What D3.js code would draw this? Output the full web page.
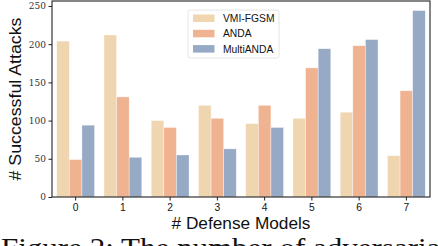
<!DOCTYPE html>
<html>
<head>
<meta charset="utf-8">
<script src="https://cdn.jsdelivr.net/npm/d3@7"></script>
<style>
  body { margin: 0; background: #fff; }
  svg { display: block; }
</style>
</head>
<body>
<svg id="chart" width="438" height="246"></svg>
<script>
// data
const categories = ["0", "1", "2", "3", "4", "5", "6", "7"];
const seriesNames = ["VMI-FGSM", "ANDA", "MultiANDA"];
const vmiFgsm = [204, 212, 100, 120, 96, 103, 111, 54];
const anda = [49, 131, 91, 103, 120, 169, 198, 139];
const multiAnda = [94, 52, 55, 63, 91, 194, 206, 244];
const yTicks = [0, 50, 100, 150, 200, 250];
const colors = ["#efd5b0", "#efb391", "#96aac5"];

const series = [vmiFgsm, anda, multiAnda];

const svg = d3.select("#chart");
const margin = { top: 1, right: 8, bottom: 49, left: 52 };
const width = +svg.attr("width") - margin.left - margin.right;
const height = +svg.attr("height") - margin.top - margin.bottom;

const g = svg
  .append("g")
  .attr("transform", `translate(${margin.left}, ${margin.top})`);

const x = d3
  .scaleBand()
  .domain(categories)
  .range([0, width])
  .paddingInner(0.2)
  .paddingOuter(0.1);

const xSub = d3
  .scaleBand()
  .domain(seriesNames)
  .range([0, x.bandwidth()]);

const y = d3
  .scaleLinear()
  .domain([0, 256.5])
  .range([height, 0]);

// bars
series.forEach((vals, si) => {
  g.append("g")
    .selectAll("rect")
    .data(vals)
    .enter()
    .append("rect")
    .attr("x", (d, i) => x(categories[i]) + xSub(seriesNames[si]))
    .attr("y", d => y(d))
    .attr("width", xSub.bandwidth())
    .attr("height", d => height - y(d))
    .attr("fill", colors[si])
    .attr("stroke", "#fff")
    .attr("stroke-opacity", 0.6)
    .attr("stroke-width", 0.6);
});

// frame
g.append("rect")
  .attr("x", 0)
  .attr("y", 0)
  .attr("width", width)
  .attr("height", height)
  .attr("fill", "none")
  .attr("stroke", "#222")
  .attr("stroke-width", 1.1);

const xAxis = d3.axisBottom(x).tickSize(3.5).tickPadding(3);
const yAxis = d3.axisLeft(y).tickValues(yTicks).tickSize(3.5).tickPadding(2.5);

g.append("g")
  .attr("transform", `translate(0, ${height})`)
  .call(xAxis)
  .call(s => {
    s.select(".domain").remove();
    s.selectAll(".tick line").attr("stroke", "#222");
    s.selectAll(".tick text")
      .attr("fill", "#111")
      .style("font-family", "'Liberation Sans', Arial, sans-serif")
      .style("font-size", "10.3px");
  });

g.append("g")
  .call(yAxis)
  .call(s => {
    s.select(".domain").remove();
    s.selectAll(".tick line").attr("stroke", "#222");
    s.selectAll(".tick text")
      .attr("fill", "#333")
      .style("font-family", "'DejaVu Serif', 'Liberation Serif', serif")
      .style("font-size", "9px");
  });

// axis titles
svg.append("text")
  .attr("x", margin.left + width / 2)
  .attr("y", 228.5)
  .attr("text-anchor", "middle")
  .attr("textLength", 139)
  .attr("lengthAdjust", "spacingAndGlyphs")
  .style("font-family", "'Liberation Sans', Arial, sans-serif")
  .style("font-size", "16px")
  .attr("fill", "#111")
  .text("# Defense Models");

svg.append("text")
  .attr("transform", `translate(21, ${margin.top + height / 2}) rotate(-90)`)
  .attr("text-anchor", "middle")
  .attr("textLength", 163)
  .attr("lengthAdjust", "spacingAndGlyphs")
  .style("font-family", "'Liberation Sans', Arial, sans-serif")
  .style("font-size", "16px")
  .attr("fill", "#111")
  .text("# Successful Attacks");

// legend
const legend = svg.append("g").attr("transform", "translate(188, 10)");
legend.append("rect")
  .attr("width", 91)
  .attr("height", 48)
  .attr("rx", 2.5)
  .attr("fill", "#fff")
  .attr("fill-opacity", 0.85)
  .attr("stroke", "#ddd")
  .attr("stroke-width", 0.8);

seriesNames.forEach((name, i) => {
  const row = legend.append("g").attr("transform", `translate(5, ${8 + i * 15.3})`);
  row.append("rect")
    .attr("x", 0)
    .attr("y", -3.5)
    .attr("width", 21.5)
    .attr("height", 7.5)
    .attr("fill", colors[i]);
  row.append("text")
    .attr("x", 30)
    .attr("y", 4)
    .style("font-family", "'Liberation Sans', Arial, sans-serif")
    .style("font-size", "10.3px")
    .attr("fill", "#111")
    .text(name);
});

// caption (clipped at the bottom of the image, as in the source)
svg.append("text")
  .attr("x", 1)
  .attr("y", 257)
  .attr("textLength", 448)
  .attr("lengthAdjust", "spacingAndGlyphs")
  .style("font-family", "'Liberation Serif', 'Times New Roman', serif")
  .style("font-size", "27px")
  .attr("fill", "#111")
  .text("Figure 2: The number of adversarial");
</script>
</body>
</html>
